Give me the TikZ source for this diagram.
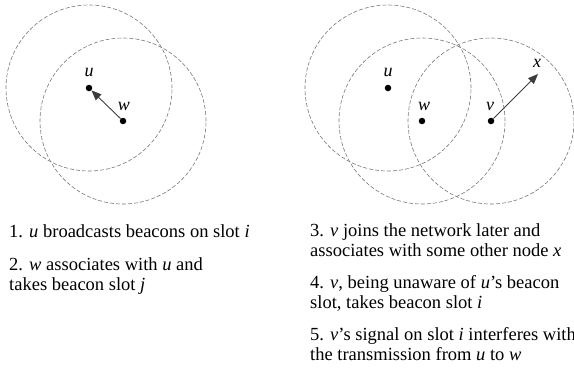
\documentclass[tikz,border=0pt]{standalone}
\usepackage{fontspec}
\setmainfont{Liberation Serif}
\usetikzlibrary{arrows.meta}
\definecolor{RangeGray}{RGB}{120,120,120}
\definecolor{LinkGray}{RGB}{60,60,60}

\begin{document}
\begin{tikzpicture}[x=1bp, y=-1bp,
    dot/.style={circle, fill=black, inner sep=0pt, minimum size=6.5bp},
    coverage/.style={dash pattern=on 4bp off 2bp, RangeGray, line width=0.6bp},
    link/.style={-{Triangle[length=10bp, width=8bp]}, LinkGray, line width=0.9bp},
    lbl/.style={font=\fontsize{18bp}{18bp}\selectfont\itshape, inner sep=1bp},
    caption/.style={font=\fontsize{18.5bp}{20.5bp}\selectfont, anchor=base west, align=left, inner sep=0pt}]
    \useasboundingbox (0,0) rectangle (574,379);

    % Left: w joins u
    \node[dot] (u1) at (89,88) {};
    \node[dot] (w1) at (123,121) {};
    \draw[coverage] (u1) circle[radius=83bp];
    \draw[coverage] (w1) circle[radius=83bp];
    \draw[link] (w1) -- (u1);
    \node[lbl] (lu1) at (89,72) {u};
    \node[lbl] (lw1) at (124,106) {w};

    % Right: v joins later and talks to x
    \node[dot] (u2) at (388,88) {};
    \node[dot] (w2) at (422,121) {};
    \node[dot] (v2) at (491,121) {};
    \coordinate (x2) at (538,74);
    \draw[coverage] (u2) circle[radius=83bp];
    \draw[coverage] (w2) circle[radius=83bp];
    \draw[coverage] (v2) circle[radius=83bp];
    \draw[link] (v2) -- (x2);
    \node[lbl] (lu2) at (388,72) {u};
    \node[lbl] (lw2) at (424,106) {w};
    \node[lbl] (lv2) at (490,106) {v};
    \node[lbl] (lx2) at (537,63) {x};

    % Steps (base = last line)
    \node[caption] (s1) at (9,237) {1. \textit{u} broadcasts beacons on slot \textit{i}};
    \node[caption] (s2) at (9,290.5) {2. \textit{w} associates with \textit{u} and\\takes beacon slot \textit{j}};
    \node[caption] (s3) at (310,256.5) {3. \textit{v} joins the network later and\\associates with some other node \textit{x}};
    \node[caption] (s4) at (310,308.5) {4. \textit{v}, being unaware of \textit{u}’s beacon\\slot, takes beacon slot \textit{i}};
    \node[caption] (s5) at (310,360.5) {5. \textit{v}’s signal on slot \textit{i} interferes with\\the transmission from \textit{u} to \textit{w}};
\end{tikzpicture}
\end{document}
